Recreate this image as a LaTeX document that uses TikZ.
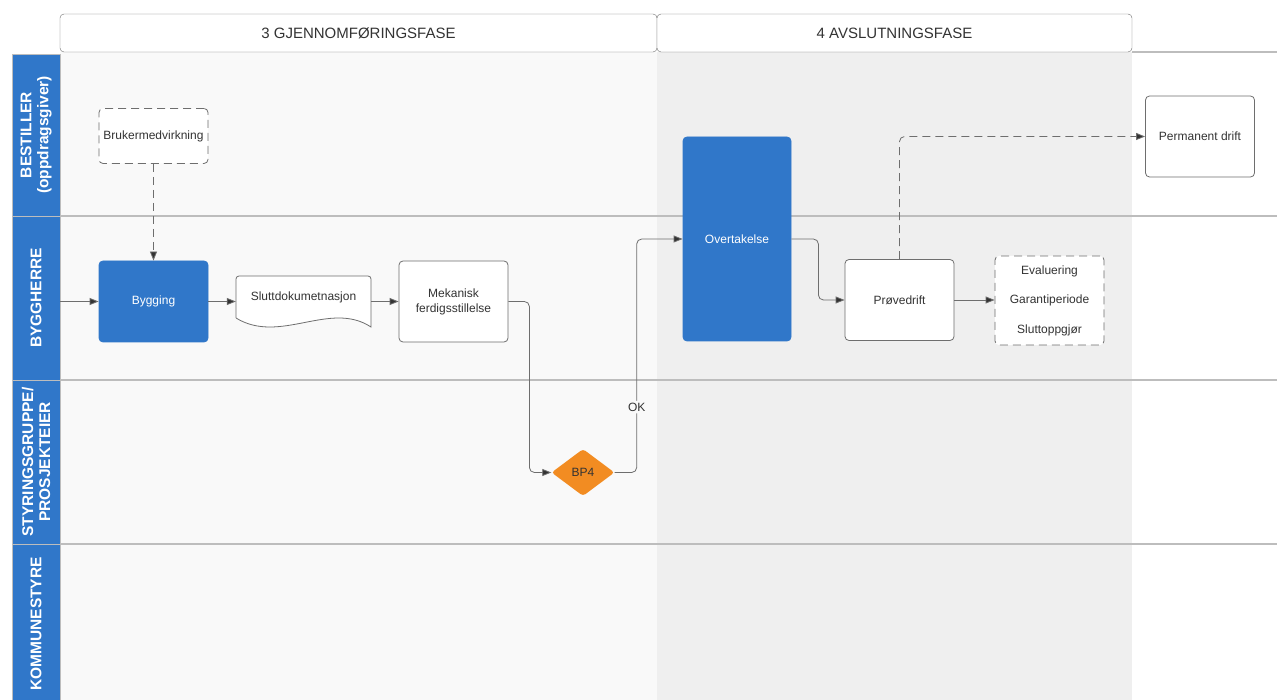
\documentclass[tikz,border=0pt]{standalone}
\usepackage{fontspec}
\setmainfont{Liberation Sans}
\usetikzlibrary{arrows.meta,shapes.geometric}
\definecolor{laneblue}{HTML}{3077C9}
\definecolor{bporange}{HTML}{F28C22}
\definecolor{lanebg}{HTML}{F9F9F9}
\definecolor{phasebg}{HTML}{EFEFEF}
\definecolor{rule}{HTML}{BDBDBD}
\definecolor{ink}{HTML}{333333}
\definecolor{edge}{HTML}{6E6E6E}

\begin{document}
\begin{tikzpicture}[x=1pt,y=-1pt,
    every node/.style={text=ink},
    phase/.style={draw=edge,fill=white,rounded corners=4pt,minimum height=38pt,inner sep=0pt,font=\fontsize{15}{18}\selectfont},
    lane/.style={draw=rule,fill=laneblue,text=white,rotate=90,minimum height=48pt,inner sep=0pt,align=center,font=\bfseries\fontsize{15.5}{17}\selectfont},
    task/.style={draw=edge,fill=white,line width=0.8pt,rounded corners=4pt,minimum width=109pt,minimum height=81pt,inner sep=0pt,align=center,font=\fontsize{12}{15}\selectfont},
    bluetask/.style={task,draw=laneblue,fill=laneblue,text=white},
    dashbox/.style={dash pattern=on 8pt off 5pt},
    flow/.style={draw=edge,line width=0.8pt,rounded corners=5pt,-{Triangle[length=9pt,width=7pt,fill=ink]}},
    dflow/.style={flow,dash pattern=on 8pt off 5pt}]
    \useasboundingbox (0,0) rectangle (1277,700);
    \fill[lanebg] (60,52) rectangle (657,700);
    \fill[phasebg] (657,52) rectangle (1132,700);
    \foreach \y in {216,380,544}
      \draw[rule,line width=1.2pt] (12,\y) -- (1277,\y);
    \draw[rule,line width=1.2pt] (1132,52) -- (1277,52);

    \node[phase,minimum width=597pt] (gjennom) at (358.5,33) {3 GJENNOMFØRINGSFASE};
    \node[phase,minimum width=475pt] (avslutt) at (894.5,33) {4 AVSLUTNINGSFASE};

    \node[lane,minimum width=162pt] (bestiller) at (36,135) {BESTILLER\\(oppdragsgiver)};
    \node[lane,minimum width=164pt] (byggherre) at (36,298) {BYGGHERRE};
    \node[lane,minimum width=164pt] (styring) at (36,462) {STYRINGSGRUPPE/\\PROSJEKTEIER};
    \node[lane,minimum width=160pt] (kommune) at (36,624) {KOMMUNESTYRE};

    \node[task,dashbox,minimum height=55pt] (bruker) at (153.5,136) {Brukermedvirkning};
    \node[bluetask] (bygg) at (153.5,301.5) {Bygging};
    \draw[edge,line width=0.8pt,fill=white] (236,318) [rounded corners=3pt] -- (236,276) -- (371,276) [sharp corners] -- (371,327)
      .. controls (330,300) and (280,345) .. (236,318);
    \node[minimum width=135pt,minimum height=42pt,inner sep=0pt,font=\fontsize{12}{15}\selectfont] (slutt) at (303.5,297) {Sluttdokumetnasjon};
    \node[task] (mek) at (453.5,301.5) {Mekanisk\\ferdigsstillelse};
    \node[diamond,fill=bporange,minimum width=63pt,minimum height=47pt,inner sep=0pt,rounded corners=3pt,font=\fontsize{12}{15}\selectfont] (bp4) at (583,472.5) {BP4};
    \node[bluetask,minimum width=108pt,minimum height=204pt] (overtak) at (737,239) {Overtakelse};
    \node[task] (prove) at (899.5,300) {Prøvedrift};
    \node[task,dashbox,minimum height=89pt,font=\fontsize{12}{29.5}\selectfont] (etter) at (1049.5,300.5) {Evaluering\\Garantiperiode\\Sluttoppgjør};
    \node[task] (perm) at (1200,136.5) {Permanent drift};

    \coordinate (inn) at (60,301.5);
    \draw[flow] (inn) -- (bygg.west);
    \draw[dflow] (bruker.south) -- (bygg.north);
    \draw[flow] (bygg.east) -- (bygg.east -| slutt.west);
    \draw[flow] (slutt.east |- mek.west) -- (mek.west);
    \draw[flow] (mek.east) -- ++(21,0) |- (bp4.west);
    \draw[flow] (bp4.east) -- ++(22,0) |- node[pos=0.14,fill=lanebg,inner sep=2pt,font=\fontsize{12}{15}\selectfont] {OK} (overtak.west);
    \draw[flow] (overtak.east) -- ++(27,0) |- (prove.west);
    \draw[flow] (prove.east) -- (prove.east -| etter.west);
    \draw[dflow] (prove.north) |- (perm.west);
\end{tikzpicture}
\end{document}
